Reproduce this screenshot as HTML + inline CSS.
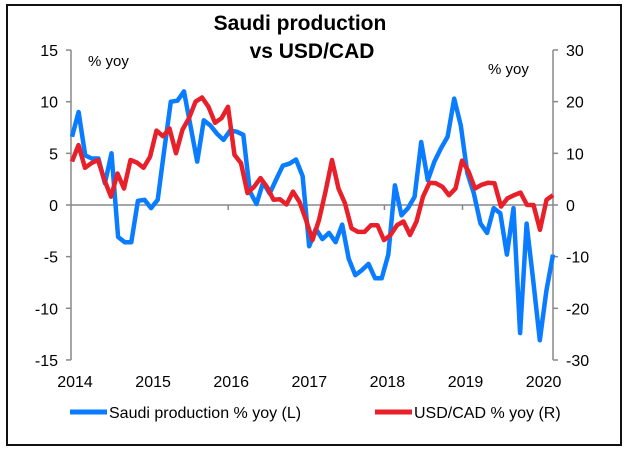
<!DOCTYPE html>
<html><head><meta charset="utf-8"><style>
body{margin:0;background:#fff;width:630px;height:451px;overflow:hidden;font-family:"Liberation Sans",Arial,sans-serif}
</style></head><body>
<svg width="630" height="451" xmlns="http://www.w3.org/2000/svg">
<rect x="7" y="5" width="614" height="440" fill="#fff" stroke="#111" stroke-width="2"/>
<text x="300" y="30" text-anchor="middle" font-size="21" font-weight="bold">Saudi production</text>
<text x="312" y="58" text-anchor="middle" font-size="21" font-weight="bold">vs USD/CAD</text>
<text x="88" y="66" font-size="15">% yoy</text>
<text x="488" y="74" font-size="15">% yoy</text>
<g id="axes"></g>
<g id="series"></g>
<g>
<line x1="70" y1="412" x2="107" y2="412" stroke="#0a7cff" stroke-width="5"/>
<text x="109" y="418" font-size="16">Saudi production % yoy (L)</text>
<line x1="375" y1="412" x2="412" y2="412" stroke="#e8202a" stroke-width="5"/>
<text x="414" y="418" font-size="16">USD/CAD % yoy (R)</text>
</g>
</svg>
<script>
const years=["2014","2015","2016","2017","2018","2019","2020"];
const leftTicks=[15,10,5,0,-5,-10,-15];
const rightTicks=[30,20,10,0,-10,-20,-30];
const saudi=[6.6,9.0,4.8,4.5,4.5,2.1,5.0,-3.1,-3.6,-3.6,0.4,0.5,-0.3,0.5,5.3,10.0,10.1,11.0,7.6,4.2,8.2,7.7,6.9,6.3,7.2,7.1,6.8,1.3,0.1,2.2,1.1,2.5,3.8,4.0,4.4,2.8,-4.0,-2.3,-3.3,-2.7,-3.6,-1.9,-5.2,-6.8,-6.3,-5.7,-7.1,-7.1,-4.8,1.9,-1.0,-0.3,0.8,6.1,2.4,4.2,5.5,6.6,10.3,7.7,3.1,1.1,-1.8,-2.7,-0.3,-0.8,-4.8,-0.3,-12.4,-1.8,-7.3,-13.1,-8.3,-4.8];
const usdcad=[8.4,11.6,7.2,8.1,8.7,4.8,1.6,6.1,3.2,8.7,8.2,7.2,9.3,14.4,13.3,14.8,10.0,14.6,16.8,20.0,20.8,19.0,15.9,16.8,19.0,9.7,8.1,2.3,3.5,5.2,3.5,1.0,1.1,0.1,2.6,0.6,-2.9,-6.8,-2.9,2.6,8.7,3.2,0.3,-4.5,-5.2,-5.2,-3.9,-3.9,-6.8,-5.8,-3.9,-3.2,-5.8,-3.2,1.6,4.3,4.2,3.5,1.9,3.2,8.6,6.5,3.2,3.9,4.3,4.2,-0.3,1.3,1.9,2.4,0,0,-4.8,1.0,1.9];
const NS='http://www.w3.org/2000/svg';
const X0=72,X1=553,Y0=205,LS=10.33,RS=5.167;
const yL=v=>Y0-v*LS, yR=v=>Y0-v*RS;
const yearX=i=>72+i*78.1;
function mk(t,a,p){const e=document.createElementNS(NS,t);for(const k in a)e.setAttribute(k,a[k]);p.appendChild(e);return e;}
const ax=document.getElementById('axes');
let e=mk('line',{x1:71,y1:50,x2:71,y2:360,stroke:'#888','stroke-width':1.5},ax);


e=mk('line',{x1:553,y1:50,x2:553,y2:360,stroke:'#888','stroke-width':1.5},ax);


e=mk('line',{x1:71,y1:Y0,x2:553,y2:Y0,stroke:'#888','stroke-width':1.5},ax);


leftTicks.forEach(v=>{
 const t=mk('line',{x1:66,y1:yL(v),x2:71,y2:yL(v),stroke:'#888','stroke-width':1.5},ax);
 
 
 const l=mk('text',{x:58,y:yL(v)+6,'text-anchor':'end','font-size':16},ax);l.textContent=v;
 
 
});
rightTicks.forEach(v=>{
 const t=mk('line',{x1:553,y1:yR(v),x2:558,y2:yR(v),stroke:'#888','stroke-width':1.5},ax);
 
 
 const l=mk('text',{x:566,y:yR(v)+6,'font-size':16},ax);l.textContent=v;
 
 
});
years.forEach((y,i)=>{
 const x=yearX(i);
 if(i>0&&i<6){const t=mk('line',{x1:x,y1:Y0,x2:x,y2:Y0+5,stroke:'#888','stroke-width':1.5},ax);
 
 }
 const l=mk('text',{x:x+3,y:387,'text-anchor':'middle','font-size':16},ax);l.textContent=y;
 
 
});
const sg=document.getElementById('series');
function line(d,yf,col,name){
 const st=(X1-X0)/(d.length-1);
 const p=mk('polyline',{points:d.map((v,i)=>(X0+i*st).toFixed(1)+','+yf(v).toFixed(1)).join(' '),fill:'none',stroke:col,'stroke-width':4.5,'stroke-linejoin':'round'},sg);
 
 
}
line(saudi,yL,'#0a7cff','saudi-production-line');
line(usdcad,yR,'#e8202a','usdcad-line');
</script>
</body></html>
